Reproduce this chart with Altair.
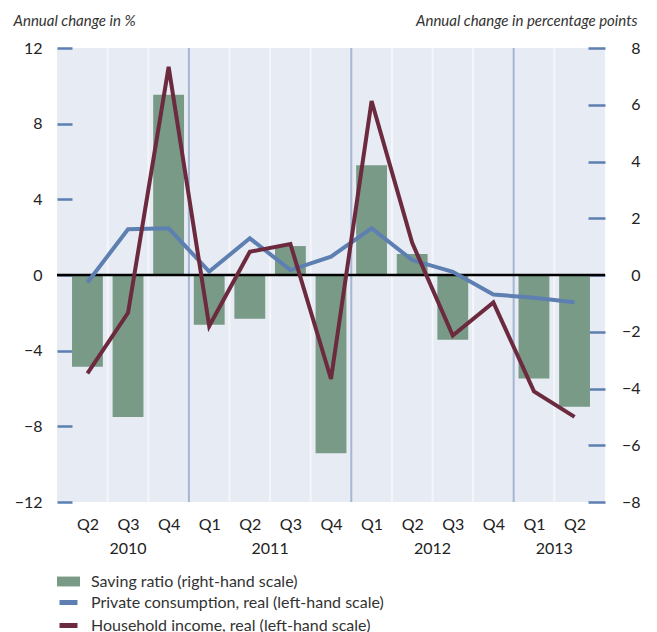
import altair as alt
import pandas as pd
import json

# ---- data ----
quarters = ["Q2", "Q3", "Q4", "Q1", "Q2", "Q3", "Q4", "Q1", "Q2", "Q3", "Q4", "Q1", "Q2"]
years = ["2010", "2010", "2010", "2011", "2011", "2011", "2011",
         "2012", "2012", "2012", "2012", "2013", "2013"]
saving = [-3.23, -5.0, 6.35, -1.75, -1.54, 1.02, -6.28, 3.87, 0.74, -2.28, 0.0, -3.65, -4.64]
consumption = [-0.4, 2.42, 2.47, 0.18, 1.94, 0.26, 0.97, 2.47, 0.79, 0.17, -1.03, -1.2, -1.44]
income = [-5.2, -2.0, 11.0, -2.7, 1.23, 1.64, -5.5, 9.2, 1.7, -3.2, -1.45, -6.15, -7.5]

left_ticks = [-12, -8, -4, 0, 4, 8, 12]
right_ticks = [-8, -6, -4, -2, 0, 2, 4, 6, 8]

sav_label = "Saving ratio (right-hand scale)"
con_label = "Private consumption, real (left-hand scale)"
inc_label = "Household income, real (left-hand scale)"

GREEN = "#7a9a88"
BLUE = "#5d7fb1"
MAROON = "#6c2a3e"
YEARLINE = "#a6b6d4"
QLINE = "#f5f6fa"
BG = "#e7ebf3"
FONT = "Lato"

df = pd.DataFrame({
    "quarter": quarters,
    "year": years,
    "saving": saving,
    "consumption": consumption,
    "income": income,
})
df["idx"] = range(len(quarters))
df["yearstart"] = [i + 1 < len(quarters) and quarters[i + 1] == "Q1" for i in range(len(quarters))]

base = alt.Chart(df)
x_scale = alt.Scale(domain=[-0.75, 12.75], nice=False, zero=False)
x_axis = alt.Axis(values=list(range(len(quarters))),
                  labelExpr=json.dumps(quarters) + "[datum.value]",
                  ticks=False, domain=False, grid=False, title=None,
                  labelPadding=14, labelFontSize=16, labelFont=FONT, labelColor="#222")
left_scale = alt.Scale(domain=[-12, 12], nice=False, zero=False)
right_scale = alt.Scale(domain=[-8, 8], nice=False, zero=False)

left_axis = alt.Axis(orient="left", values=left_ticks, offset=-15, tickSize=15, tickWidth=2.5,
                     tickColor=BLUE, domain=False, grid=False, labelPadding=15,
                     labelFontSize=16, labelFont=FONT, labelColor="#222",
                     title="Annual change in %", titleAngle=0, titleAlign="left",
                     titleBaseline="middle", titleX=-59, titleY=-28,
                     titleFontStyle="italic", titleFontWeight="normal", titleFontSize=15,
                     titleFont=FONT, titleColor="#333")
right_axis = alt.Axis(orient="right", values=right_ticks, offset=-17, tickSize=17, tickWidth=2.5,
                      tickColor=BLUE, domain=False, grid=False, labelPadding=35, labelAlign="right",
                      labelFontSize=16, labelFont=FONT, labelColor="#222",
                      title="Annual change in percentage points", titleAngle=0, titleAlign="right",
                      titleBaseline="middle", titleX=49, titleY=-28,
                      titleFontStyle="italic", titleFontWeight="normal", titleFontSize=15,
                      titleFont=FONT, titleColor="#333")

grid = base.transform_filter("datum.idx < 12").transform_calculate(
    gx="datum.idx + 0.5"
).mark_rule(strokeWidth=2).encode(
    x=alt.X("gx:Q", scale=x_scale, axis=x_axis),
    stroke=alt.condition("datum.yearstart", alt.value(YEARLINE), alt.value(QLINE)),
)

bars = base.transform_calculate(
    x0="datum.idx - 0.38", x1="datum.idx + 0.38", series=json.dumps(sav_label)
).mark_bar().encode(
    x=alt.X("x0:Q", scale=x_scale, axis=x_axis),
    x2="x1:Q",
    y=alt.Y("saving:Q", scale=right_scale, axis=right_axis),
    y2=alt.datum(0),
    fill=alt.Fill("series:N", scale=alt.Scale(domain=[sav_label], range=[GREEN]),
                  legend=alt.Legend(orient="none", legendX=0, legendY=522, title=None,
                                    symbolType="M-1,-0.43H1V0.43H-1Z", symbolSize=529,
                                    symbolStrokeWidth=0, symbolOpacity=1, labelOffset=11,
                                    labelFontSize=16, labelFont=FONT, labelColor="#333",
                                    labelLimit=500, padding=0)),
)

zero = alt.Chart(alt.Data(values=[{"v": 0}])).mark_rule(color="black", strokeWidth=2.5).encode(
    y=alt.Y("v:Q", scale=left_scale, axis=left_axis)
)

stroke_scale = alt.Scale(domain=[con_label, inc_label], range=[BLUE, MAROON])
stroke_legend = alt.Legend(orient="none", legendX=0, legendY=543, title=None,
                           symbolType="stroke", symbolSize=324, symbolStrokeWidth=5,
                           labelOffset=11, labelFontSize=16, labelFont=FONT, labelColor="#333",
                           labelLimit=500, rowPadding=1, padding=0)

cons_line = base.transform_calculate(series=json.dumps(con_label)).mark_line(
    strokeWidth=4, strokeJoin="miter").encode(
    x=alt.X("idx:Q", scale=x_scale, axis=x_axis),
    y=alt.Y("consumption:Q", scale=left_scale, axis=left_axis),
    stroke=alt.Stroke("series:N", scale=stroke_scale, legend=stroke_legend),
)
inc_line = base.transform_calculate(series=json.dumps(inc_label)).mark_line(
    strokeWidth=4, strokeJoin="miter").encode(
    x=alt.X("idx:Q", scale=x_scale, axis=x_axis),
    y=alt.Y("income:Q", scale=left_scale, axis=left_axis),
    stroke=alt.Stroke("series:N", scale=stroke_scale, legend=stroke_legend),
)

year_text = base.mark_text(fontSize=16, font=FONT, color="#222", baseline="middle").encode(
    x=alt.X("mean(idx):Q", scale=x_scale, axis=x_axis),
    y=alt.value(501),
    text="year:N",
)

left_part = alt.layer(zero, cons_line, inc_line)

chart = alt.layer(grid, bars, left_part, year_text).resolve_scale(
    y="independent"
).properties(
    width=548, height=454,
    autosize=alt.AutoSizeParams(type="none"),
    padding={"left": 49, "top": 40, "right": 44, "bottom": 140},
).configure_view(fill=BG, stroke=None)

chart.save("out.html", embed_options={"renderer": "svg", "actions": False})
